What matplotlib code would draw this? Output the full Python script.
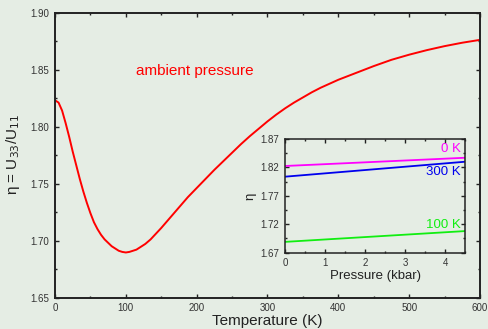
import matplotlib
matplotlib.use("Agg")
import matplotlib.pyplot as plt
from matplotlib.ticker import MultipleLocator, FormatStrFormatter

plt.rcParams['font.family'] = ['Liberation Sans', 'DejaVu Sans']

# main curve: eta vs temperature at ambient pressure
temperature = [0, 5, 10, 15, 20, 25, 30, 35, 40, 45, 50, 55, 60, 65, 70, 75,
               80, 85, 90, 95, 100, 105, 110, 115, 120, 127.5, 135, 150,
               162.5, 175, 187.5, 200, 212.5, 225, 237.5, 250, 262.5, 275,
               287.5, 300, 312.5, 325, 337.5, 350, 362.5, 375, 387.5, 400,
               425, 450, 475, 500, 525, 550, 575, 600]
eta_ambient = [1.823, 1.821, 1.814, 1.803, 1.791, 1.778, 1.766, 1.754, 1.743,
               1.733, 1.724, 1.716, 1.710, 1.705, 1.701, 1.698, 1.695, 1.693,
               1.691, 1.690, 1.6895, 1.690, 1.691, 1.692, 1.694, 1.697, 1.701,
               1.711, 1.720, 1.729, 1.738, 1.746, 1.754, 1.762, 1.7695, 1.777,
               1.7845, 1.7915, 1.798, 1.8045, 1.8105, 1.816, 1.821, 1.8255,
               1.830, 1.834, 1.8375, 1.841, 1.847, 1.853, 1.8585, 1.863, 1.867,
               1.8705, 1.8735, 1.876]

# inset: eta vs pressure
pressure = [0, 4.5]
eta_0K = [1.8225, 1.837]
eta_300K = [1.8037, 1.830]
eta_100K = [1.689, 1.708]

BG = '#e5ede4'
INK = '#222222'

fig = plt.figure(figsize=(4.88, 3.29), dpi=100, facecolor=BG)
ax = fig.add_axes([0.1127, 0.0957, 0.8709, 0.8663], facecolor=BG)

ax.plot(temperature, eta_ambient, color='#ff0000', lw=1.4)
ax.set_xlim(0, 600)
ax.set_ylim(1.65, 1.90)
ax.xaxis.set_major_locator(MultipleLocator(100))
ax.xaxis.set_minor_locator(MultipleLocator(50))
ax.yaxis.set_major_locator(MultipleLocator(0.05))
ax.yaxis.set_minor_locator(MultipleLocator(0.025))
ax.yaxis.set_major_formatter(FormatStrFormatter('%.2f'))
ax.tick_params(which='both', direction='in', top=True, right=True,
               colors=INK, labelcolor='#333333', labelsize=7, width=1)
ax.tick_params(which='major', length=3, pad=4)
ax.tick_params(which='minor', length=1.5)
for s in ax.spines.values():
    s.set_linewidth(1.4)
    s.set_color(INK)
ax.set_xlabel('Temperature (K)', fontsize=11, labelpad=1, color='#222222')
ax.set_ylabel('η = U$_{33}$/U$_{11}$', fontsize=11, labelpad=6, color='#222222')
ax.text(197, 1.8487, 'ambient pressure', color='#ff0000', fontsize=11,
        ha='center', va='center')

# inset
ins = fig.add_axes([0.584, 0.232, 0.369, 0.3455], facecolor=BG)
ins.plot(pressure, eta_0K, color='#ff00ff', lw=1.3)
ins.plot(pressure, eta_300K, color='#0000ee', lw=1.3)
ins.plot(pressure, eta_100K, color='#11ee11', lw=1.3)
ins.set_xlim(0, 4.5)
ins.set_ylim(1.67, 1.87)
ins.xaxis.set_major_locator(MultipleLocator(1))
ins.xaxis.set_minor_locator(MultipleLocator(0.5))
ins.yaxis.set_major_locator(MultipleLocator(0.05, offset=0.02))
ins.yaxis.set_minor_locator(MultipleLocator(0.025, offset=0.02))
ins.yaxis.set_major_formatter(FormatStrFormatter('%.2f'))
ins.tick_params(which='both', direction='in', top=True, right=True,
                colors=INK, labelcolor='#333333', labelsize=7, width=1)
ins.tick_params(which='major', length=3, pad=4)
ins.tick_params(which='minor', length=1.5)
for s in ins.spines.values():
    s.set_linewidth(1.1)
    s.set_color(INK)
ins.set_xlabel('Pressure (kbar)', fontsize=9.5, labelpad=1, color='#222222')
ins.set_ylabel('η', fontsize=9.5, labelpad=3, color='#222222')
ins.text(4.4, 1.852, '0 K', color='#ff00ff', fontsize=9.5, ha='right', va='center')
ins.text(4.4, 1.812, '300 K', color='#0000ee', fontsize=9.5, ha='right', va='center')
ins.text(4.4, 1.719, '100 K', color='#11ee11', fontsize=9.5, ha='right', va='center')

fig.savefig('out.png', dpi=100, facecolor=BG)
